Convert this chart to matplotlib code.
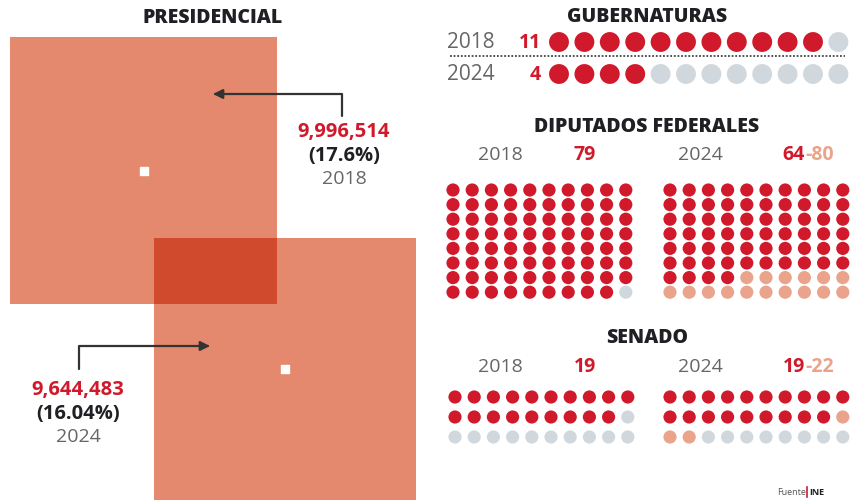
import numpy as np
import matplotlib
matplotlib.use("Agg")
import matplotlib.pyplot as plt
from matplotlib.patches import Rectangle

plt.rcParams['font.family'] = ['Open Sans', 'DejaVu Sans']

# data
years = ["2018", "2024"]
votos = [9996514, 9644483]
votos_txt = ["9,996,514", "9,644,483"]
pct_txt = ["(17.6%)", "(16.04%)"]

gub_total = 12
gub_seguros = [11, 4]

dip_total = 80
dip_min = [79, 64]
dip_max = [79, 80]
dip_txt = [("79", None), ("64", "80")]

sen_total = 30
sen_min = [19, 19]
sen_max = [19, 22]
sen_txt = [("19", None), ("19", "22")]

RED = "#D01A2B"
SALMON = "#E9A48B"
GRAY = "#D0D8DE"
SQ = "#E4896E"
SQ_DARK = "#D04B2E"
DARK = "#1F1F24"
TXT_GRAY = "#666666"

fig = plt.figure(figsize=(8.54, 5.02), dpi=100)
ax = fig.add_axes([0, 0, 1, 1])
ax.set_xlim(0, 854)
ax.set_ylim(502, 0)
ax.axis("off")

# ---- presidencial: squares with area ~ votes, placed by their centres
side = 267 * np.sqrt(np.array(votos) / votos[0])
centres = [(144, 171.5), (285, 370)]
boxes = []
for (cx, cy), s in zip(centres, side):
    ax.add_patch(Rectangle((cx - s / 2, cy - s / 2), s, s, color=SQ, lw=0))
    boxes.append((cx - s / 2, cy - s / 2, cx + s / 2, cy + s / 2))
ox0, oy0 = max(boxes[0][0], boxes[1][0]), max(boxes[0][1], boxes[1][1])
ox1, oy1 = min(boxes[0][2], boxes[1][2]), min(boxes[0][3], boxes[1][3])
ax.add_patch(Rectangle((ox0, oy0), ox1 - ox0, oy1 - oy0, color=SQ_DARK, lw=0))
ax.scatter([c[0] for c in centres], [c[1] for c in centres],
           marker="s", s=30, color="white", zorder=3)

ax.text(213, 18, "PRESIDENCIAL", ha="center", va="center", fontsize=14,
        fontweight="heavy", color=DARK)

arrow = dict(arrowstyle="-|>", color="#333333", lw=1.6, mutation_scale=14,
             shrinkA=0, shrinkB=0)
ax.annotate("", xy=(213, 95), xytext=(342, 117),
            arrowprops=dict(connectionstyle="angle,angleA=90,angleB=0,rad=0", **arrow))
ax.annotate("", xy=(210, 347), xytext=(79, 370),
            arrowprops=dict(connectionstyle="angle,angleA=90,angleB=0,rad=0", **arrow))

for (tx, ty), v, p, yr in zip([(344, 132), (78, 390)], votos_txt, pct_txt, years):
    ax.text(tx, ty, v, ha="center", va="center", fontsize=14.5, fontweight="bold", color=RED)
    ax.text(tx, ty + 24, p, ha="center", va="center", fontsize=14.5, fontweight="bold", color=DARK)
    ax.text(tx, ty + 47, yr, ha="center", va="center", fontsize=14, color=TXT_GRAY)

# ---- gubernaturas
ax.text(647, 17, "GUBERNATURAS", ha="center", va="center", fontsize=14,
        fontweight="heavy", color=DARK)
gx = 559 + np.arange(gub_total) * 25.4
for i, (yr, n) in enumerate(zip(years, gub_seguros)):
    gy = 43 + i * 32
    ax.text(447, gy, yr, ha="left", va="center", fontsize=15, color=TXT_GRAY)
    ax.text(541, gy, str(n), ha="right", va="center", fontsize=14, fontweight="bold", color=RED)
    cols = [RED if k < n else GRAY for k in range(gub_total)]
    ax.scatter(gx, np.full(gub_total, gy), s=205, color=cols, lw=0)
ax.plot([450, 845], [57, 57], color="#444444", lw=1.3, ls=(0, (1, 1)))


# ---- grids of seats
def seat_grid(x_left, y_top, total, nmin, nmax, dy):
    idx = np.arange(total)
    xs = x_left + (idx % 10) * 19.2
    ys = y_top + (idx // 10) * dy
    cols = [RED if k < nmin else (SALMON if k < nmax else GRAY) for k in idx]
    ax.scatter(xs, ys, s=90, color=cols, lw=0)


def header(xc, yc, yr, txt):
    ax.text(xc, yc, yr, ha="center", va="center", fontsize=14, color=TXT_GRAY)
    a, b = txt
    if b is None:
        ax.text(xc + 85, yc, a, ha="center", va="center", fontsize=14,
                fontweight="bold", color=RED)
    else:
        ax.text(xc + 105, yc, a, ha="right", va="center", fontsize=14,
                fontweight="bold", color=RED)
        ax.text(xc + 105, yc, "-" + b, ha="left", va="center", fontsize=14,
                fontweight="bold", color=SALMON)


ax.text(647, 127, "DIPUTADOS FEDERALES", ha="center", va="center", fontsize=14,
        fontweight="heavy", color=DARK)
for k, xl in enumerate([453, 670]):
    header(500 + k * 200, 155, years[k], dip_txt[k])
    seat_grid(xl, 191, dip_total, dip_min[k], dip_max[k], 14.6)

ax.text(647, 338, "SENADO", ha="center", va="center", fontsize=14,
        fontweight="heavy", color=DARK)
for k, xl in enumerate([455, 670]):
    header(500 + k * 200, 367, years[k], sen_txt[k])
    seat_grid(xl, 398, sen_total, sen_min[k], sen_max[k], 20)

# ---- source
ax.text(806, 493, "Fuente", ha="right", va="center", fontsize=6.5, color="#555555")
ax.plot([807.5, 807.5], [488, 498], color=RED, lw=1.2)
ax.text(809, 493, "INE", ha="left", va="center", fontsize=6.5, fontweight="bold", color=DARK)

fig.savefig("out.png", dpi=100)
